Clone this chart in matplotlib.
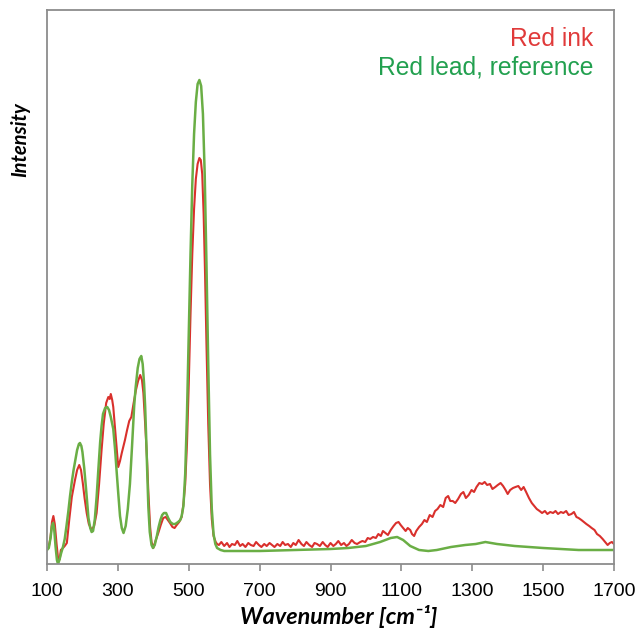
import matplotlib.pyplot as plt

## Data ---------------------------------------------

# Red lead reference spectrum (smooth)
ref_x = [100, 105, 110, 114, 117, 120, 124, 128, 131, 135, 140, 145, 150, 155, 160, 165, 170, 175, 180, 185,
         190, 193, 197, 200, 205, 210, 217, 222, 226, 230, 235, 240, 245, 250, 254, 258, 264, 270, 275, 280,
         287, 292, 296, 301, 306, 311, 316, 322, 328, 334, 340, 346, 350, 356, 361, 366, 370, 374, 377, 380,
         383, 386, 390, 395, 399, 404, 410, 415, 420, 425, 430, 436, 442, 448, 455, 462, 470, 476, 480, 485,
         490, 495, 500, 505, 510, 515, 520, 525, 530, 535, 540, 545, 550, 555, 560, 565, 570, 575, 580, 590,
         600, 700, 800, 900, 950, 1000, 1040, 1070, 1088, 1105, 1125, 1150, 1176, 1200, 1240, 1280, 1310,
         1337, 1370, 1420, 1500, 1550, 1600, 1700]
ref_y = [14, 16, 26, 38, 41, 36, 18, 4, 0, 4, 11, 17, 25, 38, 52, 68, 82, 94, 104, 114,
         120, 121, 118, 112, 96, 76, 46, 36, 32, 33, 45, 67, 95, 122, 138, 150, 156, 157, 154, 147,
         135, 115, 95, 71, 48, 36, 31, 38, 55, 80, 118, 158, 176, 196, 205, 208, 200, 180, 157, 125,
         90, 57, 32, 19, 16, 19, 28, 37, 44, 49, 51, 51, 46, 42, 40, 40, 42, 44, 48, 58,
         90, 150, 230, 310, 380, 430, 462, 480, 484, 478, 450, 390, 300, 200, 110, 55, 30, 20, 16, 14,
         13, 13, 14, 15, 16, 18, 22, 26, 27, 24, 18, 14, 13, 14, 17, 19, 20,
         22, 20, 18, 16, 15, 14, 14]

# Red ink spectrum (noisy)
ink_x = [100, 105, 110, 114, 118, 122, 127, 132, 136, 139, 145, 150, 156, 163, 170, 179, 185, 191, 196, 201,
         206, 212, 218, 226, 233, 240, 247, 254, 260, 267, 273, 277, 280, 284, 287, 291, 295, 301, 306, 311,
         316, 320, 326, 332, 338, 344, 351, 357, 363, 368, 372, 377, 382, 386, 391, 395, 400, 407, 414, 421,
         428, 435, 441, 447, 454, 460, 466, 473, 480, 485, 490, 495, 500, 505, 510, 515, 520, 525, 530, 534,
         538, 542, 546, 550, 555, 560, 565, 570, 576, 580, 585, 592, 600, 608, 615, 622, 630, 637, 645, 652,
         660, 668, 675, 683, 690, 698, 705, 713, 720, 728, 735, 742, 750, 758, 765, 772, 780, 788, 795, 802,
         810, 818, 825, 832, 840, 848, 855, 862, 870, 878, 885, 892, 900, 908, 915, 922, 930, 938, 945, 952,
         960, 968, 975, 984, 990, 998, 1005, 1012, 1020, 1028, 1035, 1042, 1048, 1055, 1062, 1070, 1078, 1085,
         1092, 1098, 1105, 1112, 1118, 1125, 1130, 1136, 1142, 1150, 1158, 1165, 1172, 1180, 1188, 1195, 1202,
         1210, 1218, 1225, 1232, 1238, 1245, 1252, 1260, 1268, 1275, 1282, 1290, 1298, 1305, 1312, 1320, 1328,
         1335, 1342, 1350, 1357, 1365, 1372, 1380, 1387, 1394, 1400, 1407, 1415, 1422, 1430, 1438, 1445, 1452,
         1460, 1468, 1475, 1482, 1490, 1497, 1505, 1512, 1520, 1528, 1535, 1542, 1550, 1557, 1565, 1572, 1580,
         1587, 1594, 1600, 1608, 1615, 1622, 1630, 1637, 1645, 1652, 1660, 1668, 1675, 1682, 1688, 1694, 1700]
ink_y = [15, 17, 27, 42, 48, 40, 20, 3, 5, 14, 16, 18, 21, 45, 67, 84, 94, 99, 94, 81,
         66, 51, 40, 34, 38, 51, 80, 114, 140, 161, 167, 165, 170, 164, 157, 140, 124, 97, 103, 111,
         118, 124, 134, 143, 147, 160, 174, 183, 189, 184, 171, 140, 107, 72, 37, 22, 16, 24, 31, 39,
         46, 47, 44, 41, 37, 36, 39, 42, 47, 60, 80, 120, 180, 250, 310, 355, 385, 400, 406, 404,
         390, 350, 290, 220, 140, 80, 45, 28, 22, 20, 19, 22, 18, 21, 17, 20, 19, 23, 18, 20,
         17, 21, 19, 18, 22, 19, 17, 20, 18, 21, 19, 17, 20, 18, 22, 19, 20, 17, 21, 19,
         24, 20, 18, 22, 19, 17, 21, 20, 18, 22, 19, 17, 21, 18, 20, 23, 19, 21, 18, 20,
         24, 21, 20, 22, 23, 22, 26, 25, 27, 26, 30, 28, 33, 31, 29, 34, 38, 41,
         42, 39, 36, 33, 36, 34, 30, 28, 33, 37, 40, 44, 42, 49, 47, 53, 55,
         59, 57, 66, 68, 63, 63, 61, 65, 70, 72, 66, 69, 74, 72, 77, 81, 80,
         82, 79, 80, 75, 77, 79, 81, 78, 74, 70, 74, 76, 77, 78, 74, 77, 72,
         66, 61, 58, 55, 53, 51, 53, 50, 52, 51, 53, 50, 52, 51, 53, 49, 50,
         52, 47, 46, 44, 42, 40, 38, 36, 34, 30, 28, 25, 22, 19, 21, 22, 20]

x_ticks = [100, 300, 500, 700, 900, 1100, 1300, 1500, 1700]

red_line = "#d9302c"
green_line = "#6aae45"
red_text = "#e03a3a"
green_text = "#22a04f"
gray = "#8c8c8c"

## Plot ---------------------------------------------

fig = plt.figure(figsize=(6.41, 6.30), dpi=100)
ax = fig.add_axes([47 / 641, 66 / 630, 567 / 641, 554 / 630])

ax.plot(ink_x, ink_y, color=red_line, lw=1.5)
ax.plot(ref_x, ref_y, color=green_line, lw=1.8)

ax.set_xlim(100, 1700)
ax.set_ylim(0, 554)
ax.set_xticks(x_ticks)
ax.set_yticks([])
ax.tick_params(axis="x", direction="out", length=5, width=1.2, color=gray,
               labelsize=14, pad=9)
for lab in ax.get_xticklabels():
    lab.set_fontfamily("Liberation Sans")
for sp in ax.spines.values():
    sp.set_color(gray)
    sp.set_linewidth(1.3)

fig.text(339 / 641, 1 - 617 / 630, "Wavenumber [cm\u207b\u00b9]", ha="center", va="center",
         fontsize=16.8, fontweight="bold", fontstyle="italic", family=["Lato", "DejaVu Sans"])
fig.text(20 / 641, 1 - 140 / 630, "Intensity", ha="center", va="center", rotation=90,
         fontsize=14.5, fontweight="bold", fontstyle="italic", family="Lato")

ax.text(0.963, 0.948, "Red ink", transform=ax.transAxes, ha="right", va="center",
        color=red_text, fontsize=17.7, family="Liberation Sans")
ax.text(0.963, 0.897, "Red lead, reference", transform=ax.transAxes, ha="right", va="center",
        color=green_text, fontsize=17.7, family="Liberation Sans")

fig.savefig("out.png", dpi=100)
